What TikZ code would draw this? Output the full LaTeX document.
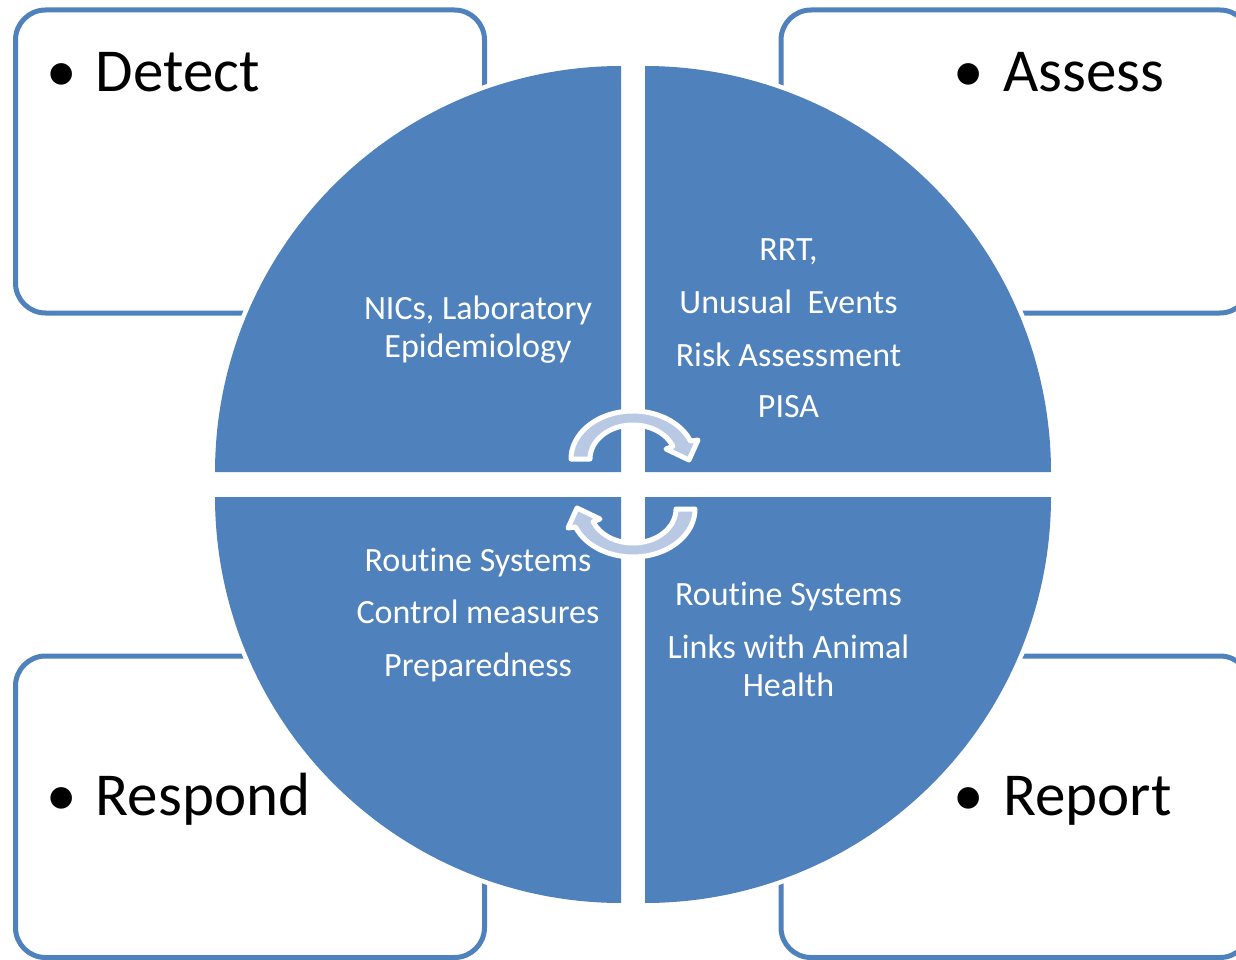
\documentclass[tikz,border=0pt]{standalone}
\usepackage{fontspec}
\setmainfont{Carlito}[Ligatures={NoCommon}]
\definecolor{qblue}{RGB}{79,129,189}
\definecolor{arrowfill}{RGB}{185,201,227}
\begin{document}
\begin{tikzpicture}[x=1pt,y=-1pt,
  box/.style={draw=qblue, line width=5pt, fill=white, rounded corners=30pt, minimum width=469pt, minimum height=303pt, inner sep=0pt, outer sep=0pt},
  quad/.style={fill=qblue, preaction={draw=white, line width=9pt}},
  big/.style={font=\fontsize{61}{72}\selectfont, text=black, anchor=base west, inner sep=0pt},
  bul/.style={font=\fontsize{61}{72}\selectfont, text=black, anchor=base, inner sep=0pt},
  small/.style={font=\fontsize{34}{40}\selectfont, text=white, anchor=base, inner sep=0pt},
  cyc/.style={fill=arrowfill, draw=white, line width=5pt, line join=round}]

\useasboundingbox (0,0) rectangle (1236,960);
\clip (0,0) rectangle (1236,960);

% corner boxes
\node[box] (detectbox) at (250,161.5) {};
\node[box] (assessbox) at (1015.5,161.5) {};
\node[box, minimum height=301.5pt] (respondbox) at (250,806.75) {};
\node[box, minimum height=301.5pt] (reportbox) at (1015.5,806.75) {};

% quadrants
\fill[quad] (621,472) -- plot[domain=180:90,samples=90] ({621+406*cos(\x)},{472-406*sin(\x)}) -- cycle;
\fill[quad] (645,472) -- plot[domain=90:0,samples=90] ({645+406*cos(\x)},{472-406*sin(\x)}) -- cycle;
\fill[quad] (621,497) -- plot[domain=180:270,samples=90] ({621+406*cos(\x)},{497-406*sin(\x)}) -- cycle;
\fill[quad] (645,497) -- plot[domain=270:360,samples=90] ({645+406*cos(\x)},{497-406*sin(\x)}) -- cycle;

% box labels
\node[bul] (detectdot) at (62,92) {•};
\node[big] (detect) at (95.5,92) {Detect};
\node[bul] (assessdot) at (969,92) {•};
\node[big] (assess) at (1003,92) {Assess};
\node[bul] (responddot) at (62,815) {•};
\node[big] (respond) at (95.5,815) {Respond};
\node[bul] (reportdot) at (969,815) {•};
\node[big] (report) at (1003,815) {Report};

% quadrant texts
\node[small] (tla) at (478,319) {NICs, Laboratory};
\node[small] (tlb) at (478,357) {Epidemiology};
\node[small] (tra) at (788.5,260) {RRT,};
\node[small] (trb) at (788.5,313) {Unusual~~Events};
\node[small] (trc) at (788.5,366) {Risk Assessment};
\node[small] (trd) at (788.5,417) {PISA};
\node[small] (bla) at (478,571) {Routine Systems};
\node[small] (blb) at (478,623) {Control measures};
\node[small] (blc) at (478,676) {Preparedness};
\node[small] (bra) at (788.5,605) {Routine Systems};
\node[small] (brb) at (788.5,658) {Links with Animal};
\node[small] (brc) at (788.5,696) {Health};

% circular arrows
\path[cyc] plot[domain=180:22,samples=60] ({633+62*cos(\x)},{459-48*sin(\x)}) -- (698,440) -- (689,460) -- (666,449) -- plot[domain=22:180,samples=60] ({633+43*cos(\x)},{459-34*sin(\x)}) -- cycle;
\begin{scope}[rotate around={180:(633,484)}]
\path[cyc] plot[domain=180:22,samples=60] ({633+62*cos(\x)},{459-48*sin(\x)}) -- (698,440) -- (689,460) -- (666,449) -- plot[domain=22:180,samples=60] ({633+43*cos(\x)},{459-34*sin(\x)}) -- cycle;
\end{scope}
\end{tikzpicture}
\end{document}
